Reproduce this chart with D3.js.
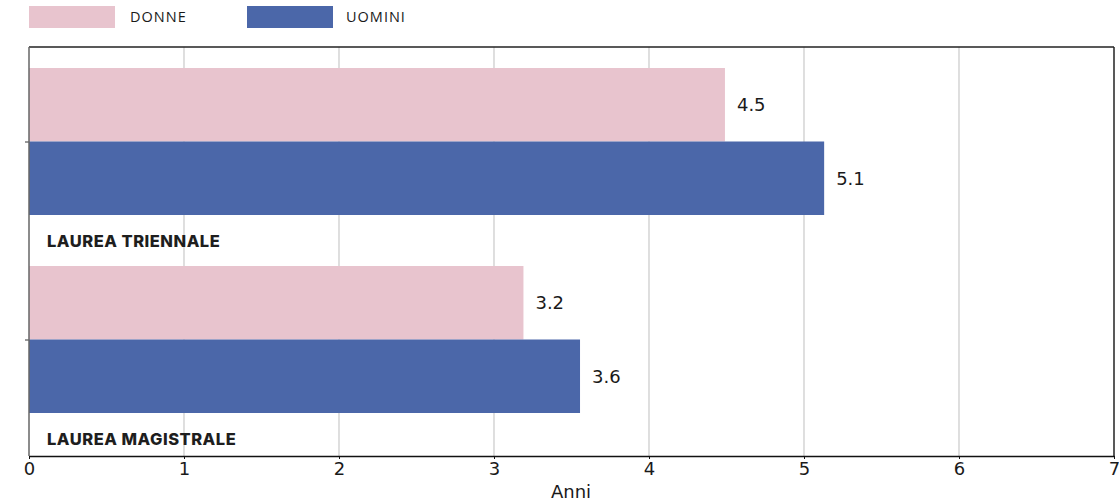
<!DOCTYPE html>
<html><head><meta charset="utf-8">
<script src="https://cdn.jsdelivr.net/npm/d3@7"></script>
<style>body{margin:0;background:#fff}</style>
</head><body><svg id="c" width="1119" height="504"></svg>
<script>
const categories = ["LAUREA TRIENNALE", "LAUREA MAGISTRALE"];
const seriesNames = ["DONNE", "UOMINI"];
const donne = [4.49, 3.19];
const uomini = [5.13, 3.555];
const xTicks = [0, 1, 2, 3, 4, 5, 6, 7];
const colors = {DONNE: "#e8c4ce", UOMINI: "#4b67a9"};

const svg = d3.select("#c");
const mLeft = 29, mRight = 1114, mTop = 47, mBottom = 456;

const x = d3.scaleLinear().domain([0, 7]).range([mLeft, mRight]);
const y0 = d3.scaleBand().domain(categories).range([42.5, 438.5]).padding(0);
const groupH = 147;
const y1 = d3.scaleBand().domain(seriesNames).range([0, groupH]).padding(0);
const groupOff = (y0.bandwidth() - groupH) / 2;

const data = categories.map((c, i) => ({cat: c, vals: [
  {s: "DONNE", v: donne[i]}, {s: "UOMINI", v: uomini[i]}]}));

// grid
svg.append("g").selectAll("line").data(xTicks.slice(1, -1)).join("line")
  .attr("x1", d => x(d)).attr("x2", d => x(d))
  .attr("y1", mTop).attr("y2", mBottom)
  .attr("stroke", "#c9c9c9").attr("stroke-width", 1.2);

// bars
const g = svg.append("g").selectAll("g").data(data).join("g")
  .attr("transform", d => `translate(0,${y0(d.cat) + groupOff})`);
g.selectAll("rect").data(d => d.vals).join("rect")
  .attr("x", x(0)).attr("y", d => y1(d.s))
  .attr("width", d => x(d.v) - x(0)).attr("height", y1.bandwidth())
  .attr("fill", d => colors[d.s]);
g.selectAll("text.val").data(d => d.vals).join("text").attr("class", "val")
  .attr("x", d => x(d.v) + 12).attr("y", d => y1(d.s) + y1.bandwidth() / 2)
  .attr("dy", "0.36em")
  .attr("font-family", "DejaVu Sans").attr("font-size", 18).attr("fill", "#1a1a1a")
  .text(d => d3.format(".1f")(d.v));
g.append("text")
  .attr("x", 47).attr("y", groupH + 32)
  .attr("font-family", "Inter").attr("font-weight", 800).attr("font-size", 16.5)
  .attr("letter-spacing", 0.5)
  .attr("fill", "#1e1e1e")
  .text(d => d.cat);

// frame
svg.append("line").attr("x1", mLeft).attr("x2", mRight).attr("y1", mTop).attr("y2", mTop)
  .attr("stroke", "#222").attr("stroke-width", 1.5);
svg.append("line").attr("x1", mRight).attr("x2", mRight).attr("y1", mTop).attr("y2", mBottom)
  .attr("stroke", "#222").attr("stroke-width", 1.5);

// left axis
const yAxis = d3.axisLeft(d3.scalePoint().domain(categories)
    .range([y0(categories[0]) + y0.bandwidth() / 2, y0(categories[1]) + y0.bandwidth() / 2]))
  .tickSize(4).tickFormat("");
const ya = svg.append("g").attr("transform", `translate(${mLeft},0)`).call(yAxis);
ya.select(".domain").remove();
ya.selectAll("line").attr("stroke", "#333");
svg.append("line").attr("x1", mLeft).attr("x2", mLeft).attr("y1", mTop).attr("y2", mBottom)
  .attr("stroke", "#666").attr("stroke-width", 1.5);

// bottom axis
const xa = svg.append("g").attr("transform", `translate(0,${mBottom})`)
  .call(d3.axisBottom(x).tickValues(xTicks).tickFormat(d3.format("d"))
    .tickSize(3).tickSizeOuter(0).tickPadding(3));
xa.select(".domain").attr("stroke", "#111").attr("stroke-width", 1.5);
xa.selectAll("line").attr("stroke", "#111");
xa.selectAll("text").attr("font-family", "DejaVu Sans").attr("font-size", 18).attr("fill", "#1a1a1a");
svg.append("text").attr("x", 571).attr("y", 498)
  .attr("text-anchor", "middle").attr("font-family", "DejaVu Sans").attr("font-size", 18)
  .attr("fill", "#1a1a1a").text("Anni");

// legend
const legX = [29, 247];
const lg = svg.append("g").selectAll("g").data(seriesNames).join("g")
  .attr("transform", (d, i) => `translate(${legX[i]},6)`);
lg.append("rect").attr("width", 86).attr("height", 22).attr("fill", d => colors[d]);
lg.append("text").attr("x", (d, i) => i === 0 ? 101 : 99).attr("y", 11).attr("dy", "0.36em")
  .attr("font-family", "Open Sans").attr("font-size", 14.5).attr("letter-spacing", 1)
  .attr("fill", "#1a1a1a").text(d => d);
</script></body></html>
